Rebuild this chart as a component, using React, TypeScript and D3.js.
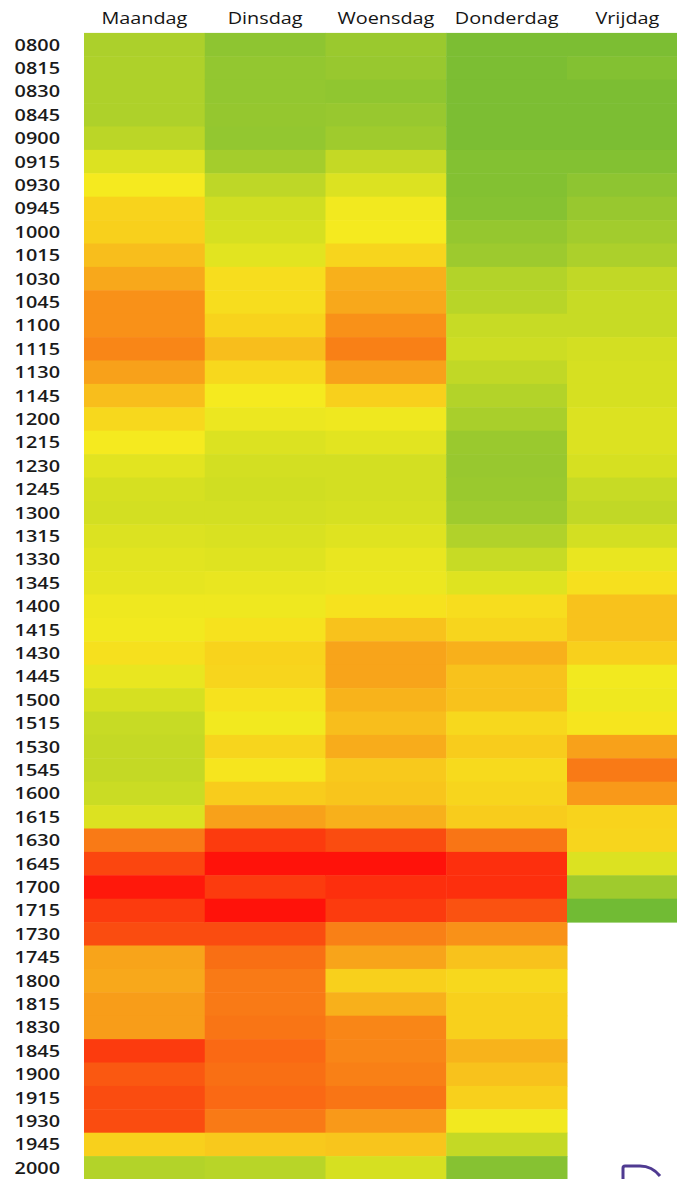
import React from 'react';
import * as d3 from 'd3';

// days across the top, quarter hours down the side
const days = ['Maandag', 'Dinsdag', 'Woensdag', 'Donderdag', 'Vrijdag'];

const times = [
  '0800', '0815', '0830', '0845', '0900', '0915', '0930', '0945',
  '1000', '1015', '1030', '1045', '1100', '1115', '1130', '1145',
  '1200', '1215', '1230', '1245', '1300', '1315', '1330', '1345',
  '1400', '1415', '1430', '1445', '1500', '1515', '1530', '1545',
  '1600', '1615', '1630', '1645', '1700', '1715', '1730', '1745',
  '1800', '1815', '1830', '1845', '1900', '1915', '1930', '1945',
  '2000',
];

// busyness per quarter (0 = calm/green, 100 = busy/red)
const maandag = [
  25, 26, 26, 26, 31, 42, 50, 59, 60, 65, 71, 77, 77, 80, 73, 65,
  57, 50, 44, 40, 39, 42, 44, 45, 48, 49, 54, 46, 40, 35, 34, 34,
  36, 42, 82, 91, 99, 93, 90, 72, 71, 74, 74, 93, 88, 90, 90, 60,
  28,
];
const dinsdag = [
  13, 15, 15, 16, 15, 22, 32, 38, 40, 44, 55, 55, 59, 65, 57, 50,
  47, 42, 39, 38, 39, 41, 43, 46, 48, 53, 59, 58, 53, 49, 58, 52,
  61, 73, 93, 100, 93, 100, 90, 84, 82, 82, 83, 85, 84, 85, 82, 62,
  30,
];
const woensdag = [
  18, 17, 14, 17, 20, 34, 42, 49, 50, 58, 69, 71, 77, 81, 73, 60,
  48, 44, 39, 39, 40, 43, 46, 47, 53, 64, 72, 72, 68, 65, 70, 62,
  63, 69, 90, 100, 95, 93, 81, 72, 60, 69, 80, 80, 81, 83, 75, 63,
  40,
];
const donderdag = [
  6, 6, 6, 6, 6, 9, 9, 10, 16, 19, 28, 30, 35, 37, 33, 28,
  24, 18, 17, 18, 20, 27, 35, 43, 55, 58, 69, 64, 64, 57, 61, 56,
  58, 61, 83, 95, 95, 89, 77, 64, 57, 60, 60, 68, 64, 60, 49, 34,
  10,
];
const vrijdag = [
  6, 9, 6, 6, 6, 9, 13, 17, 21, 25, 33, 35, 35, 39, 40, 40,
  42, 42, 40, 35, 33, 39, 46, 54, 64, 64, 60, 49, 48, 52, 73, 82,
  75, 59, 58, 42, 20, 2,
];

const series = [maandag, dinsdag, woensdag, donderdag, vrijdag];

const colorStops = [0, 10, 20, 30, 40, 50, 60, 70, 80, 90, 100];
const colorRange = [
  '#6cb935', '#86c232', '#9fcb2d', '#b8d528', '#d6e021', '#f5ea1f',
  '#f8d01c', '#f8ac1b', '#f98617', '#fa4c10', '#ff120a',
];

const width = 677;
const height = 1179;

export default function App() {
  const left = 84;
  const top = 32.9;
  const colW = 120.75;
  const rowH = 23.4;

  const x = d3
    .scaleBand<string>()
    .domain(days)
    .range([left, left + colW * days.length]);
  const y = d3
    .scaleBand<string>()
    .domain(times)
    .range([top, top + rowH * times.length]);
  const color = d3
    .scaleLinear<string>()
    .domain(colorStops)
    .range(colorRange)
    .interpolate(d3.interpolateRgb);

  const font = "'Open Sans', 'DejaVu Sans', sans-serif";
  // the screenshot text is stretched sideways a bit
  const stretch = 1.28;

  return (
    <svg
      width={width}
      height={height}
      style={{ position: 'absolute', left: 0, top: 0, display: 'block' }}
    >
      <rect width={width} height={height} fill="#fff" />
      <g>
        {series.map((vals, di) =>
          vals.map((v, ti) => (
            <rect
              key={di + '-' + ti}
              x={x(days[di])}
              y={y(times[ti])}
              width={x.bandwidth() + 0.5}
              height={y.bandwidth() + 0.5}
              fill={color(v)}
            />
          ))
        )}
      </g>
      <g fontFamily={font} fontSize={15.5} fill="#151515">
        {days.map((d) => (
          <text
            key={d}
            transform={
              'translate(' + ((x(d) as number) + x.bandwidth() / 2) + ',24) scale(' + stretch + ',1)'
            }
            textAnchor="middle"
          >
            {d}
          </text>
        ))}
      </g>
      <g fontFamily={font} fontSize={15.5} fill="#1a1a1a" fontWeight={600}>
        {times.map((t) => (
          <text
            key={t}
            transform={
              'translate(60,' + ((y(t) as number) + y.bandwidth() / 2) + ') scale(' + stretch + ',1)'
            }
            textAnchor="end"
            dominantBaseline="central"
          >
            {t}
          </text>
        ))}
      </g>
      {/* edge of a logo peeking in at the bottom right */}
      <path
        d="M623,1181 L623,1168 Q623,1166 625,1166 L640,1166 Q652,1166 660,1176"
        fill="none"
        stroke="#4f3a91"
        strokeWidth={3}
      />
    </svg>
  );
}
